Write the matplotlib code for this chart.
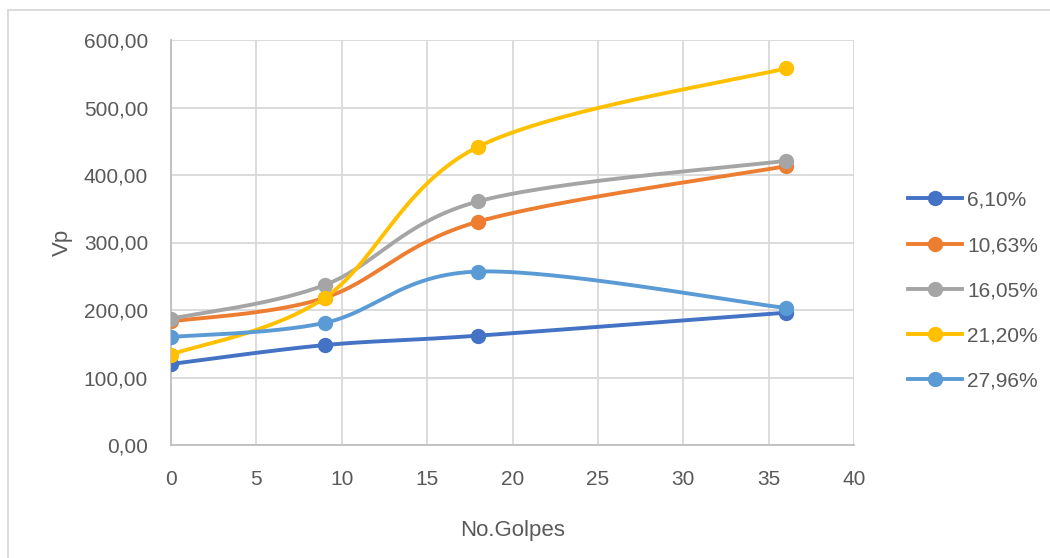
import numpy as np
import matplotlib
matplotlib.use("Agg")
import matplotlib.pyplot as plt
from matplotlib.lines import Line2D

plt.rcParams['font.family'] = ['Liberation Sans', 'DejaVu Sans']

golpes = [0, 9, 18, 36]
series_names = ["6,10%", "10,63%", "16,05%", "21,20%", "27,96%"]
vp_610 = [120, 148, 162, 196]
vp_1063 = [183, 218, 331, 413]
vp_1605 = [187, 237, 361, 421]
vp_2120 = [134, 218, 442, 558]
vp_2796 = [160, 181, 257, 203]
series_values = [vp_610, vp_1063, vp_1605, vp_2120, vp_2796]
colors = ["#4472C4", "#ED7D31", "#A5A5A5", "#FFC000", "#5B9BD5"]
y_ticks = [0, 100, 200, 300, 400, 500, 600]
x_ticks = [0, 5, 10, 15, 20, 25, 30, 35, 40]


def smooth(xs, ys, n=60):
    """Cardinal-spline smoothing through the points (Bezier, tension 1/6)."""
    pts = np.column_stack([xs, ys]).astype(float)
    out = []
    m = len(pts)
    for i in range(m - 1):
        p0 = pts[i - 1] if i > 0 else pts[i]
        p1 = pts[i]
        p2 = pts[i + 1]
        p3 = pts[i + 2] if i + 2 < m else pts[i + 1]
        c1 = p1 + (p2 - p0) / 6.0
        c2 = p2 - (p3 - p1) / 6.0
        t = np.linspace(0, 1, n)[:, None]
        seg = ((1 - t) ** 3) * p1 + 3 * ((1 - t) ** 2) * t * c1 \
            + 3 * (1 - t) * t ** 2 * c2 + t ** 3 * p2
        out.append(seg if i == 0 else seg[1:])
    out = np.vstack(out)
    return out[:, 0], out[:, 1]


fig = plt.figure(figsize=(10.5, 5.58), dpi=100)
ax = fig.add_axes([171 / 1050, 1 - 445 / 558, (854 - 171) / 1050, (445 - 40) / 558])

for name, vals, c in zip(series_names, series_values, colors):
    sx, sy = smooth(golpes, vals)
    ax.plot(sx, sy, color=c, lw=2.8, solid_capstyle='round', zorder=3)
    ax.plot(golpes, vals, 'o', color=c, ms=10, zorder=4)

ax.set_xlim(0, 40)
ax.set_ylim(0, 600)
ax.set_xticks(x_ticks)
ax.set_yticks(y_ticks)
ax.set_yticklabels([f"{v:.2f}".replace(".", ",") for v in y_ticks])
ax.grid(True, color="#D9D9D9", lw=1.3, zorder=0)
ax.set_axisbelow(True)
for side in ["top", "right"]:
    ax.spines[side].set_visible(False)
for side in ["left", "bottom"]:
    ax.spines[side].set_color("#BFBFBF")
    ax.spines[side].set_linewidth(1.3)
ax.tick_params(length=0, labelsize=15, colors="#595959")
ax.tick_params(axis='y', pad=16.5)
ax.tick_params(axis='x', pad=18)
ax.set_ylabel("Vp", fontsize=16, color="#595959", labelpad=8)
ax.set_xlabel("No.Golpes", fontsize=16, color="#595959", labelpad=22.5)

handles = [Line2D([0], [0], color=c, lw=2.8, marker='o', ms=10) for c in colors]
leg = fig.legend(handles, series_names, loc='upper left', bbox_to_anchor=(889 / 1050, 1 - 172 / 558),
                 frameon=False, fontsize=15, labelspacing=1.26, handlelength=2.6,
                 handletextpad=0.25, labelcolor="#595959")

# chart area border
fig.add_artist(Line2D([8 / 1050, 8 / 1050], [0, 1 - 10 / 558], color="#D9D9D9", lw=1.3,
                      transform=fig.transFigure))
fig.add_artist(Line2D([8 / 1050, 1], [1 - 10 / 558, 1 - 10 / 558], color="#D9D9D9", lw=1.3,
                      transform=fig.transFigure))

fig.savefig("out.png", dpi=100, facecolor="white")
